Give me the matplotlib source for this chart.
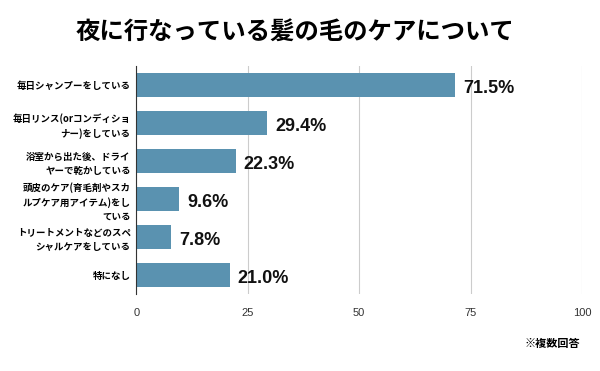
import matplotlib
matplotlib.use("Agg")
import matplotlib.pyplot as plt

plt.rcParams['font.family'] = ['Noto Sans CJK JP', 'DejaVu Sans']

# data
categories = [
    "毎日シャンプーをしている",
    "毎日リンス(orコンディショ\nナー)をしている",
    "浴室から出た後、ドライ\nヤーで乾かしている",
    "頭皮のケア(育毛剤やスカ\nルプケア用アイテム)をし\nている",
    "トリートメントなどのスペ\nシャルケアをしている",
    "特になし",
]
values = [71.5, 29.4, 22.3, 9.6, 7.8, 21.0]
xticks = [0, 25, 50, 75, 100]

bar_color = "#5a92b0"

fig = plt.figure(figsize=(6, 3.71), dpi=100)
ax = fig.add_axes([0.227, 0.2075, 0.743, 0.6145])

y = list(range(len(values)))
ax.barh(y, values, height=0.64, color=bar_color, zorder=3)
ax.set_ylim(len(values) - 0.5, -0.5)
ax.set_xlim(0, 100)

for yi, v in zip(y, values):
    ax.text(v + 1.8, yi + 0.1, f"{v:.1f}%", va="center", ha="left",
            fontsize=13, fontweight="bold", family="Liberation Sans", color="#111111")

ax.set_xticks(xticks)
ax.set_xticklabels([str(t) for t in xticks], family="Liberation Sans", fontsize=8, color="#333333")
ax.set_yticks(y)
ax.set_yticklabels(categories, fontsize=6.8, fontweight="bold", linespacing=1.45)
ax.tick_params(axis="y", length=0, pad=4)
ax.tick_params(axis="x", length=0, pad=10)
ax.grid(axis="x", color="#cccccc", linewidth=0.8, zorder=0)
for s in ["top", "right", "bottom"]:
    ax.spines[s].set_visible(False)
ax.spines["left"].set_color("#333333")
ax.spines["left"].set_linewidth(0.8)
ax.spines["left"].set_zorder(4)

fig.text(0.4925, 0.912, "夜に行なっている髪の毛のケアについて", ha="center", va="center",
         fontsize=17.6, fontweight="bold")
fig.text(0.967, 0.075, "※複数回答", ha="right", va="center", fontsize=8, fontweight="bold")

fig.savefig("out.png", dpi=100)
